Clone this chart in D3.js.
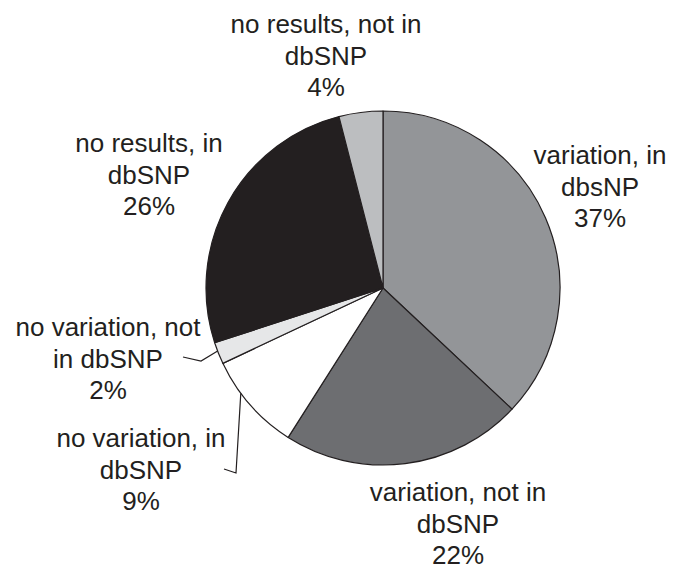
<!doctype html>
<html>
<head>
<meta charset="UTF-8">
<title>dbSNP pie</title>
<script src="https://d3js.org/d3.v7.min.js"></script>
<style>
  body { margin: 0; background: #fff; }
  text { font-family: "Liberation Sans", Arial, sans-serif; font-size: 26px; fill: #231f20; }
</style>
</head>
<body>
<script>
// data, in drawing order (clockwise from 12 o'clock)
var categories = ["variation, in dbsNP", "variation, not in dbSNP", "no variation, in dbSNP",
                  "no variation, not in dbSNP", "no results, in dbSNP", "no results, not in dbSNP"];
var values = [37, 22, 9, 2, 26, 4];
var labelLines = [
  ["variation, in", "dbsNP", "37%"],
  ["variation, not in", "dbSNP", "22%"],
  ["no variation, in", "dbSNP", "9%"],
  ["no variation, not", "in dbSNP", "2%"],
  ["no results, in", "dbSNP", "26%"],
  ["no results, not in", "dbSNP", "4%"]
];
var colors = ["#939598", "#6d6e71", "#ffffff", "#e6e7e8", "#231f20", "#bcbec0"];

var width = 673, height = 564;
var cx = 383, cy = 288, r = 177;

var svg = d3.select("body").append("svg")
  .attr("width", width)
  .attr("height", height);

var pie = d3.pie().sort(null).value(function(d){ return d; });
var arc = d3.arc().innerRadius(0).outerRadius(r);
var arcs = pie(values);

var g = svg.append("g").attr("transform", "translate(" + cx + "," + cy + ")");

g.selectAll("path.slice")
  .data(arcs)
  .enter().append("path")
  .attr("class", "slice")
  .attr("d", arc)
  .attr("fill", function(d, i){ return colors[i]; })
  .attr("stroke", "#231f20")
  .attr("stroke-width", 1.2)
  .attr("stroke-linejoin", "round");

// label anchors (centre x, first baseline) -- placed by eye
var labelPos = [[600, 164], [458, 501], [141, 447], [108, 336], [149, 152], [326, 33]];
var lineGap = 31.5;

labelLines.forEach(function(lines, i){
  var t = svg.append("text")
    .attr("text-anchor", "middle")
    .attr("x", labelPos[i][0])
    .attr("y", labelPos[i][1]);
  lines.forEach(function(s, j){
    t.append("tspan")
      .attr("x", labelPos[i][0])
      .attr("y", labelPos[i][1] + j * lineGap)
      .text(s);
  });
});

// leader lines for the two small slices, starting on the arc at a point inside the slice
var leaders = [
  { slice: 3, frac: 0.6, pts: [[201, 361], [183, 357]] },
  { slice: 2, frac: 0.65, pts: [[236, 473], [224, 469]] }
];
leaders.forEach(function(L){
  var a = arcs[L.slice];
  var ang = a.startAngle + (a.endAngle - a.startAngle) * L.frac;
  var start = [cx + r * Math.sin(ang), cy - r * Math.cos(ang)];
  svg.append("path")
    .attr("d", d3.line()([start].concat(L.pts)))
    .attr("fill", "none")
    .attr("stroke", "#231f20")
    .attr("stroke-width", 1.2);
});
</script>
</body>
</html>
